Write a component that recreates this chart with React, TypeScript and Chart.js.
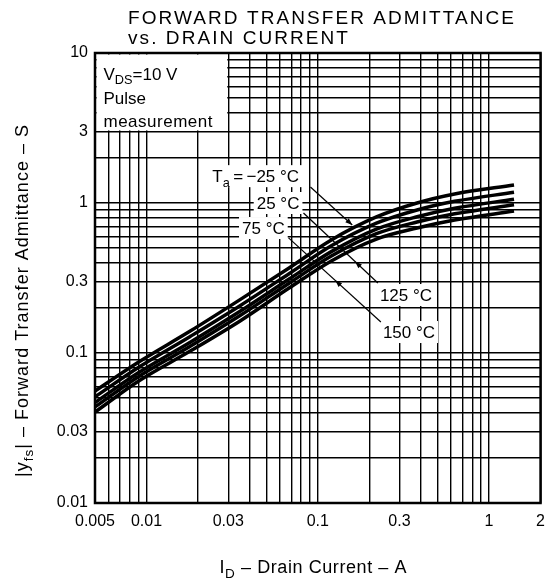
import React, { useEffect, useRef } from 'react';
import { Chart, registerables } from 'chart.js';

Chart.register(...registerables);

// ---- data ----
const drainCurrentA = [0.005, 0.009, 0.018, 0.035, 0.068, 0.12, 0.22, 0.38, 0.63, 1.4];
const yfsTaMinus25 = [0.0558, 0.0871, 0.14, 0.226, 0.369, 0.567, 0.807, 1.0, 1.148, 1.318];
const yfsTa25 = [0.051, 0.0803, 0.129, 0.206, 0.338, 0.518, 0.733, 0.898, 1.026, 1.179];
const yfsTa75 = [0.0467, 0.0741, 0.118, 0.189, 0.311, 0.474, 0.67, 0.81, 0.922, 1.059];
const yfsTa125 = [0.0437, 0.0698, 0.111, 0.177, 0.292, 0.443, 0.624, 0.747, 0.847, 0.973];
const yfsTa150 = [0.0404, 0.0651, 0.103, 0.163, 0.271, 0.411, 0.575, 0.681, 0.77, 0.884];

const xTickLabels = [0.005, 0.01, 0.03, 0.1, 0.3, 1, 2];
const yTickLabels = [0.01, 0.03, 0.1, 0.3, 1, 3, 10];
const xRange = [0.005, 2];
const yRange = [0.01, 10];

const titleLines = ['FORWARD TRANSFER ADMITTANCE', 'vs. DRAIN CURRENT'];
const conditionLines = ['Pulse', 'measurement'];
// condition box spans these data ranges
const boxX = [0.005, 0.03];
const boxY = [3, 10];

type Part = { t: string; sub?: boolean };
const tempLabels: { parts: Part[]; x: number; y: number }[] = [
  { parts: [{ t: 'T' }, { t: 'a', sub: true }, { t: '\u2009=\u2009\u221225 \u00B0C' }], x: 0.0242, y: 1.51 },
  { parts: [{ t: '25 \u00B0C' }], x: 0.044, y: 1.0 },
  { parts: [{ t: '75 \u00B0C' }], x: 0.0361, y: 0.681 },
  { parts: [{ t: '125 \u00B0C' }], x: 0.2306, y: 0.2435 },
  { parts: [{ t: '150 \u00B0C' }], x: 0.24, y: 0.138 },
];
const leaders = [
  { from: [0.0906, 1.278], to: [0.159, 0.714], arrowAt: 1, dir: 1 },
  { from: [0.0825, 0.858], to: [0.2244, 0.293], arrowAt: 0.693, dir: -1 },
  { from: [0.0675, 0.585], to: [0.2336, 0.161], arrowAt: 0.505, dir: -1 },
];

const FAMILY = "'Liberation Sans', Arial, Helvetica, sans-serif";

function logGrid(min: number, max: number): number[] {
  const out: number[] = [];
  for (let e = Math.floor(Math.log10(min)); e <= Math.ceil(Math.log10(max)); e++) {
    for (let m = 1; m <= 9; m++) {
      const v = Number((m * Math.pow(10, e)).toPrecision(6));
      if (v >= min * 0.9999 && v <= max * 1.0001) out.push(v);
    }
  }
  return out;
}

const labelFor = (labels: number[]) => (value: number | string) => {
  const v = Number(value);
  const hit = labels.find((l) => Math.abs(l - v) / l < 1e-6);
  return hit !== undefined ? String(hit) : '';
};

function countChars(parts: Part[]) {
  return parts.reduce((n, p) => n + p.t.length, 0);
}

function richWidth(ctx: CanvasRenderingContext2D, parts: Part[], size: number, ls = 0) {
  let w = 0;
  for (const p of parts) {
    ctx.font = `${p.sub ? size * 0.75 : size}px ${FAMILY}`;
    w += ctx.measureText(p.t).width + ls * p.t.length;
  }
  return w;
}

function drawRich(
  ctx: CanvasRenderingContext2D,
  parts: Part[],
  x: number,
  baseline: number,
  size: number,
  align: 'left' | 'center' = 'left',
  ls = 0
) {
  const total = richWidth(ctx, parts, size, ls);
  let cx = align === 'center' ? x - total / 2 : x;
  ctx.textAlign = 'left';
  ctx.textBaseline = 'alphabetic';
  (ctx as any).letterSpacing = `${ls}px`;
  for (const p of parts) {
    const s = p.sub ? size * 0.75 : size;
    ctx.font = `${s}px ${FAMILY}`;
    ctx.fillText(p.t, cx, baseline + (p.sub ? size * 0.28 : 0));
    (ctx as any).letterSpacing = '0px';
    cx += ctx.measureText(p.t).width + ls * p.t.length;
    (ctx as any).letterSpacing = `${ls}px`;
  }
  (ctx as any).letterSpacing = '0px';
  return total;
}

// draw rich text stretched (via letter spacing) to a target length
function drawFitted(
  ctx: CanvasRenderingContext2D,
  parts: Part[],
  cx: number,
  baseline: number,
  size: number,
  target: number
) {
  const w = richWidth(ctx, parts, size);
  const n = countChars(parts);
  const ls = Math.max(0, (target - w) / Math.max(1, n - 1));
  drawRich(ctx, parts, cx + ls / 2, baseline, size, 'center', ls);
}

function arrowHead(ctx: CanvasRenderingContext2D, x: number, y: number, ang: number) {
  const len = 7;
  const hw = 2.6;
  ctx.beginPath();
  ctx.moveTo(x, y);
  ctx.lineTo(x - len * Math.cos(ang) + hw * Math.sin(ang), y - len * Math.sin(ang) - hw * Math.cos(ang));
  ctx.lineTo(x - len * Math.cos(ang) - hw * Math.sin(ang), y - len * Math.sin(ang) + hw * Math.cos(ang));
  ctx.closePath();
  ctx.fill();
}

const decorations = {
  id: 'decorations',
  beforeDatasetsDraw(chart: any) {
    const { ctx } = chart;
    const xs = chart.scales.x;
    const ys = chart.scales.y;
    ctx.save();
    // condition box
    const bx0 = xs.getPixelForValue(boxX[0]) + 1.5;
    const bx1 = xs.getPixelForValue(boxX[1]) - 1;
    const by0 = ys.getPixelForValue(boxY[1]) + 1.5;
    const by1 = ys.getPixelForValue(boxY[0]) - 1;
    ctx.fillStyle = '#fff';
    ctx.fillRect(bx0, by0, bx1 - bx0, by1 - by0);
    ctx.fillStyle = '#000';
    drawRich(ctx, [{ t: 'V' }, { t: 'DS', sub: true }, { t: '=10 V' }], bx0 + 7, by0 + 25, 17);
    drawRich(ctx, [{ t: conditionLines[0] }], bx0 + 7, by0 + 49, 17);
    drawRich(ctx, [{ t: conditionLines[1] }], bx0 + 7, by0 + 72, 17, 'left', 0.5);

    // temperature labels
    for (const lab of tempLabels) {
      const px = xs.getPixelForValue(lab.x);
      const py = ys.getPixelForValue(lab.y);
      const w = richWidth(ctx, lab.parts, 17);
      ctx.fillStyle = '#fff';
      ctx.fillRect(px - 3, py - 11, w + 6, 22);
      ctx.fillStyle = '#000';
      drawRich(ctx, lab.parts, px, py + 6, 17);
    }
    ctx.restore();
  },
  afterDatasetsDraw(chart: any) {
    const { ctx, chartArea } = chart;
    const xs = chart.scales.x;
    const ys = chart.scales.y;
    ctx.save();
    ctx.strokeStyle = '#000';
    ctx.fillStyle = '#000';
    ctx.lineWidth = 1.2;
    for (const l of leaders) {
      const x1 = xs.getPixelForValue(l.from[0]);
      const y1 = ys.getPixelForValue(l.from[1]);
      const x2 = xs.getPixelForValue(l.to[0]);
      const y2 = ys.getPixelForValue(l.to[1]);
      ctx.beginPath();
      ctx.moveTo(x1, y1);
      ctx.lineTo(x2, y2);
      ctx.stroke();
      const ax = x1 + (x2 - x1) * l.arrowAt;
      const ay = y1 + (y2 - y1) * l.arrowAt;
      let ang = Math.atan2(y2 - y1, x2 - x1);
      if (l.dir < 0) ang += Math.PI;
      arrowHead(ctx, ax, ay, ang);
    }
    // frame
    ctx.lineWidth = 2.5;
    ctx.strokeRect(chartArea.left, chartArea.top, chartArea.right - chartArea.left, chartArea.bottom - chartArea.top);
    ctx.restore();
  },
  afterDraw(chart: any) {
    const { ctx } = chart;
    ctx.save();
    ctx.fillStyle = '#000';
    // title with letter spacing
    ctx.font = `19px ${FAMILY}`;
    ctx.textAlign = 'left';
    ctx.textBaseline = 'alphabetic';
    const w0 = ctx.measureText(titleLines[0]).width;
    const spacing = (386 - w0) / (titleLines[0].length - 1);
    (ctx as any).letterSpacing = `${spacing}px`;
    ctx.fillText(titleLines[0], 128, 24);
    ctx.fillText(titleLines[1], 128, 44);
    (ctx as any).letterSpacing = '0px';

    // x axis title
    drawFitted(
      ctx,
      [{ t: 'I' }, { t: 'D', sub: true }, { t: ' \u2013 Drain Current \u2013 A' }],
      313,
      573,
      18,
      187
    );
    // y axis title
    ctx.translate(28, 301);
    ctx.rotate(-Math.PI / 2);
    drawFitted(
      ctx,
      [{ t: '|y' }, { t: 'fs', sub: true }, { t: '| \u2013 Forward Transfer Admittance \u2013 S' }],
      0,
      0,
      18,
      352
    );
    ctx.restore();
  },
};

export default function App() {
  const ref = useRef<HTMLCanvasElement | null>(null);
  useEffect(() => {
    document.body.style.margin = '0';
    const canvas = ref.current;
    if (!canvas) return;
    const mk = (data: number[]) => ({
      data: drainCurrentA.map((x, i) => ({ x, y: data[i] })),
      borderColor: '#000',
      borderWidth: 3.5,
      pointRadius: 0,
      cubicInterpolationMode: 'monotone' as const,
      fill: false,
    });
    const chart = new Chart(canvas, {
      type: 'line',
      data: {
        datasets: [
          { label: '-25 °C', ...mk(yfsTaMinus25) },
          { label: '25 °C', ...mk(yfsTa25) },
          { label: '75 °C', ...mk(yfsTa75) },
          { label: '125 °C', ...mk(yfsTa125) },
          { label: '150 °C', ...mk(yfsTa150) },
        ],
      },
      options: {
        responsive: false,
        animation: false,
        devicePixelRatio: 1,
        layout: { padding: { left: 0, top: 53, right: 10, bottom: 0 } },
        plugins: { legend: { display: false }, tooltip: { enabled: false }, title: { display: false } },
        scales: {
          x: {
            type: 'logarithmic',
            min: xRange[0],
            max: xRange[1],
            border: { display: false },
            grid: { color: '#000', lineWidth: 1.4, drawTicks: false },
            afterBuildTicks: (scale: any) => {
              scale.ticks = logGrid(xRange[0], xRange[1]).map((value) => ({ value }));
            },
            afterFit: (scale: any) => {
              scale.height = 79;
            },
            ticks: {
              autoSkip: false,
              maxRotation: 0,
              padding: 9,
              color: '#000',
              font: { family: FAMILY, size: 16 },
              callback: labelFor(xTickLabels),
            },
          },
          y: {
            type: 'logarithmic',
            min: yRange[0],
            max: yRange[1],
            border: { display: false },
            grid: { color: '#000', lineWidth: 1.4, drawTicks: false },
            afterBuildTicks: (scale: any) => {
              scale.ticks = logGrid(yRange[0], yRange[1]).map((value) => ({ value }));
            },
            afterFit: (scale: any) => {
              scale.width = 95;
            },
            ticks: {
              autoSkip: false,
              padding: 7,
              color: '#000',
              font: { family: FAMILY, size: 16 },
              callback: labelFor(yTickLabels),
            },
          },
        },
      },
      plugins: [decorations],
    });
    return () => chart.destroy();
  }, []);
  return (
    <div style={{ position: 'absolute', left: 0, top: 0, width: 554, height: 582, background: '#fff' }}>
      <canvas ref={ref} width={554} height={582} style={{ display: 'block' }} />
    </div>
  );
}
